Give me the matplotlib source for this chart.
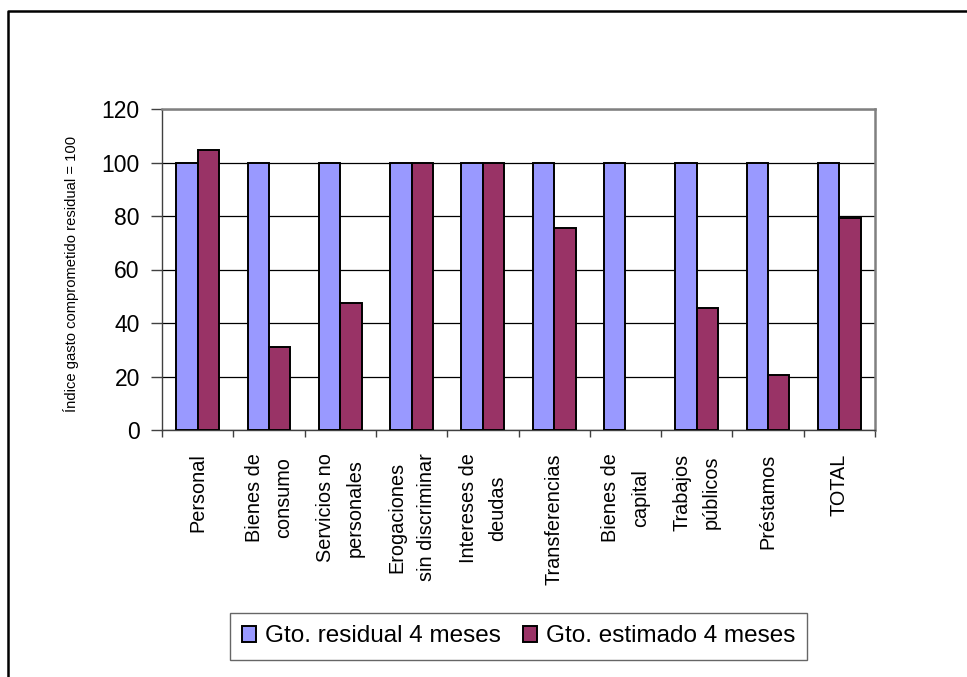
import matplotlib
matplotlib.use("Agg")
import matplotlib.pyplot as plt
import numpy as np
from matplotlib.lines import Line2D

plt.rcParams['font.family'] = ['Liberation Sans', 'DejaVu Sans']

categories = ["Personal", "Bienes de\nconsumo", "Servicios no\npersonales",
              "Erogaciones\nsin discriminar", "Intereses de\ndeudas", "Transferencias",
              "Bienes de\ncapital", "Trabajos\npúblicos", "Préstamos", "TOTAL"]
residual = [100, 100, 100, 100, 100, 100, 100, 100, 100, 100]
estimado = [104.7, 31.1, 47.3, 100, 100, 75.6, 0, 45.7, 20.4, 79.4]
series_names = ["Gto. residual 4 meses", "Gto. estimado 4 meses"]
yticks = [0, 20, 40, 60, 80, 100, 120]
ylabel = "Índice gasto comprometido residual = 100"

W, H = 967, 677
fig = plt.figure(figsize=(W / 100, H / 100), dpi=100)
ax = fig.add_axes([162 / W, (H - 430) / H, (875 - 162) / W, (430 - 109) / H])

x = np.arange(len(categories))
bw = 0.3
b1 = ax.bar(x - bw / 2, residual, bw, color='#9999FF', edgecolor='black', linewidth=1.4, zorder=3)
b2 = ax.bar(x + bw / 2, estimado, bw, color='#993366', edgecolor='black', linewidth=1.4, zorder=3)
for rect, v in zip(b2, estimado):
    if v == 0:
        rect.set_linewidth(0)

ax.set_xlim(-0.5, len(categories) - 0.5)
ax.set_ylim(0, 120)
ax.set_yticks(yticks)
ax.set_yticklabels([str(t) for t in yticks], fontsize=16.5)
ax.yaxis.grid(True, color='black', linewidth=0.9, zorder=0)
ax.set_axisbelow(True)

ax.set_xticks(x)
ax.set_xticklabels(categories, rotation=90, fontsize=14.3, va='top', ha='center',
                   multialignment='center', linespacing=1.7)
ax.tick_params(axis='x', which='major', length=0, pad=17)
ax.set_xticks(np.arange(len(categories) + 1) - 0.5, minor=True)
ax.tick_params(axis='x', which='minor', length=5, width=1, color='#404040', direction='out')
ax.tick_params(axis='y', length=8, width=1, color='#404040', pad=8, direction='out')

for s in ['left', 'bottom']:
    ax.spines[s].set_color('#404040')
    ax.spines[s].set_linewidth(1.0)
for s in ['top', 'right']:
    ax.spines[s].set_color('#808080')
    ax.spines[s].set_linewidth(1.8)

ax.set_ylabel(ylabel, fontsize=10.6)
ax.yaxis.set_label_coords((79 - 162) / 713, 0.485)

leg = fig.legend([b1, b2], series_names, loc='center', bbox_to_anchor=(518.5 / W, 1 - 636.5 / H),
                 ncol=2, fontsize=17.5, frameon=True, fancybox=False, edgecolor='#404040',
                 handlelength=0.6, handleheight=0.6, handletextpad=0.35, columnspacing=0.9,
                 borderpad=0.5, borderaxespad=0)
leg.get_frame().set_linewidth(1.0)

# outer chart border (left and top visible)
fig.add_artist(Line2D([8 / W, 8 / W, 1.0], [0.0, 1 - 11 / H, 1 - 11 / H],
                      transform=fig.transFigure, color='black', linewidth=1.8))

fig.savefig("out.png", dpi=100)
